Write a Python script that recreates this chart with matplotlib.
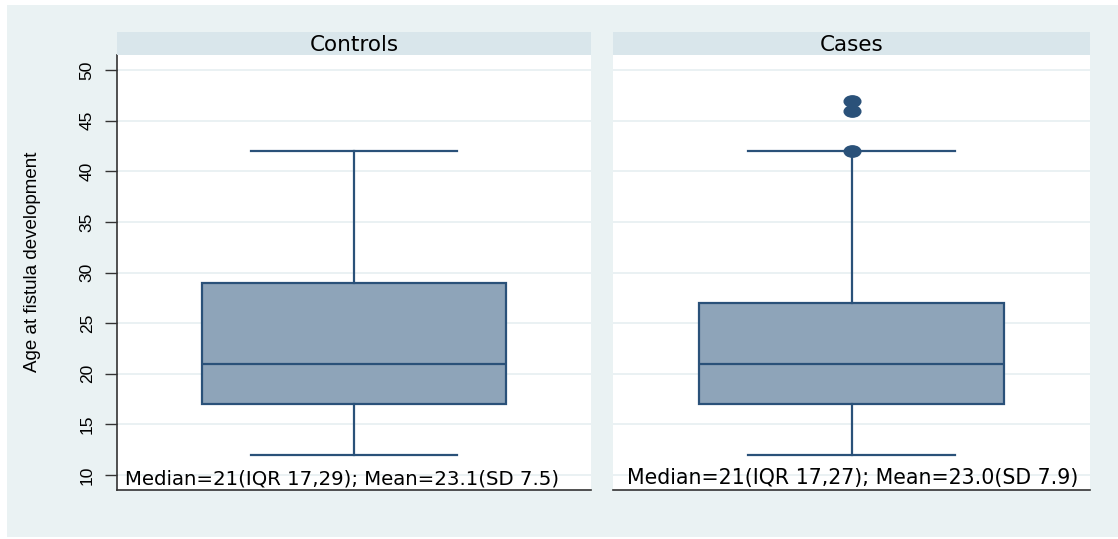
import matplotlib
matplotlib.use("Agg")
import matplotlib.pyplot as plt
from matplotlib.path import Path
from matplotlib.patches import Rectangle
from matplotlib.transforms import Affine2D

# Data
groups = ["Controls", "Cases"]
q1 = [17, 17]
median = [21, 21]
q3 = [29, 27]
whis_lo = [12, 12]
whis_hi = [42, 42]
outliers = [[], [42, 46, 47]]
notes = ["Median=21(IQR 17,29); Mean=23.1(SD 7.5)",
         "Median=21(IQR 17,27); Mean=23.0(SD 7.9)"]
yticks = [10, 15, 20, 25, 30, 35, 40, 45, 50]
ylabel = "Age at fistula development"

bg = "#eaf2f3"
strip = "#d9e6eb"
navy = "#2a5179"
fill = "#8ea4b9"
grid = "#e6eff1"

ellipse = Path.unit_circle().transformed(Affine2D().scale(1.0, 0.68))

fig = plt.figure(figsize=(11.18, 5.39), dpi=100)
fig.patch.set_facecolor("white")
fig.patches.append(Rectangle((7/1118, 2/539), 1 - 7/1118, 1 - 7/539,
                             transform=fig.transFigure, facecolor=bg,
                             edgecolor="none", zorder=-10))

lefts = [117, 613]
widths = [474, 477]
note_x = [0.017, 0.029]
note_fs = [14.2, 14.8]

for i in range(2):
    L = lefts[i] / 1118
    W = widths[i] / 1118
    ax = fig.add_axes([L, 1 - 490/539, W, 435/539])
    ax.set_facecolor("white")
    ax.set_xlim(0, 1)
    ax.set_ylim(8.5, 51.5)
    for y in yticks:
        ax.axhline(y, color=grid, lw=1.2, zorder=0)

    stats = [{"med": median[i], "q1": q1[i], "q3": q3[i],
              "whislo": whis_lo[i], "whishi": whis_hi[i],
              "fliers": outliers[i]}]
    ax.bxp(stats, positions=[0.5], widths=0.64, patch_artist=True,
           boxprops=dict(facecolor=fill, edgecolor=navy, lw=1.6),
           medianprops=dict(color=navy, lw=1.6),
           whiskerprops=dict(color=navy, lw=1.6),
           capprops=dict(color=navy, lw=1.6),
           capwidths=0.435,
           flierprops=dict(marker=ellipse, markersize=12,
                           markerfacecolor=navy, markeredgecolor=navy))

    ax.set_xticks([])
    for s in ["top", "right"]:
        ax.spines[s].set_visible(False)
    ax.spines["bottom"].set_color("#333333")
    ax.spines["bottom"].set_linewidth(1.2)
    if i == 0:
        ax.spines["left"].set_color("#333333")
        ax.spines["left"].set_linewidth(1.2)
        ax.set_yticks(yticks)
        ax.tick_params(axis="y", direction="out", length=9, width=1,
                       color="#333333", pad=7)
        for t in ax.get_yticklabels():
            t.set_rotation(90)
            t.set_va("center")
            t.set_family("Liberation Sans")
            t.set_fontsize(12.5)
    else:
        ax.spines["left"].set_visible(False)
        ax.set_yticks([])

    ax.text(note_x[i], 0.004, notes[i], transform=ax.transAxes,
            ha="left", va="bottom", fontsize=note_fs[i],
            family="DejaVu Sans", color="black")

    hax = fig.add_axes([L, 1 - 55/539, W, 23/539])
    hax.set_facecolor(strip)
    hax.set_xticks([])
    hax.set_yticks([])
    for s in hax.spines.values():
        s.set_visible(False)
    hax.text(0.5, 0.45, groups[i], ha="center", va="center",
             fontsize=15.5, family="DejaVu Sans", transform=hax.transAxes)

fig.text(33/1118, 1 - 262/539, ylabel, rotation=90, ha="center", va="center",
         fontsize=13.5, family="Liberation Sans")

fig.savefig("out.png", dpi=100, facecolor=fig.get_facecolor())
